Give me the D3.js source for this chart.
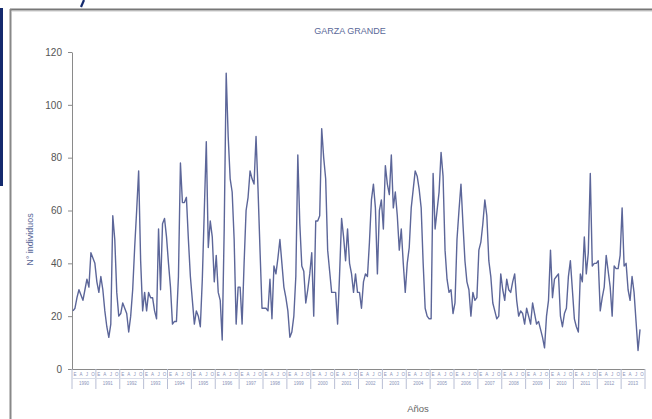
<!DOCTYPE html>
<html>
<head>
<meta charset="utf-8">
<script src="https://cdn.jsdelivr.net/npm/d3@7"></script>
<style>
  body { margin: 0; background: #fff; }
  svg { display: block; font-family: "Liberation Sans", Arial, sans-serif; }
</style>
</head>
<body>
<div id="chart"></div>
<script>
// monthly counts, one row per year
const counts = [
  22, 23, 27, 30, 28, 26, 30, 34, 31, 44, 42, 40,
  33, 29, 35, 30, 22, 16, 12, 17, 58, 49, 29, 20,
  21, 25, 23, 21, 14, 20, 30, 46, 60, 75, 41, 22,
  29, 22, 29, 27, 27, 22, 19, 53, 30, 55, 57, 50,
  40, 31, 17, 18, 18, 35, 78, 63, 63, 65, 49, 35,
  26, 17, 22, 20, 16, 34, 60, 86, 46, 56, 50, 33,
  43, 29, 26, 11, 53, 112, 88, 72, 67, 49, 17, 31,
  31, 17, 40, 60, 65, 75, 72, 70, 88, 68, 45, 23,
  23, 23, 22, 34, 19, 39, 36, 42, 49, 40, 31, 27,
  22, 12, 14, 20, 35, 81, 55, 39, 37, 25, 30, 36,
  44, 20, 56, 56, 58, 91, 80, 72, 45, 37, 29, 29,
  29, 17, 36, 57, 50, 41, 53, 40, 36, 29, 36, 29,
  29, 23, 33, 36, 35, 48, 64, 70, 61, 36, 60, 64,
  53, 77, 70, 66, 81, 61, 67, 58, 45, 53, 40, 29,
  40, 46, 61, 68, 75, 73, 68, 61, 40, 23, 20, 19,
  19, 74, 53, 60, 67, 82, 73, 45, 34, 29, 30, 21,
  25, 49, 60, 70, 55, 41, 33, 30, 20, 29, 26, 27,
  45, 48, 55, 64, 58, 41, 35, 25, 22, 19, 20, 36,
  30, 26, 34, 30, 29, 33, 36, 26, 20, 22, 21, 17,
  23, 20, 17, 25, 21, 17, 18, 15, 12, 8, 20, 26,
  45, 27, 34, 35, 36, 20, 16, 21, 23, 35, 41, 30,
  19, 16, 14, 36, 33, 50, 36, 44, 74, 39, 40, 40,
  41, 22, 27, 31, 43, 37, 31, 20, 39, 38, 38, 43,
  61, 39, 40, 30, 26, 35, 29, 18, 7, 15
];
const years = d3.range(1990, 2014).map(String);
const quarterLabels = ["E", "A", "J", "O"];
const yTicks = [0, 20, 40, 60, 80, 100, 120];

const W = 652, H = 419;
const plotLeft = 72, plotRight = 645, plotTop = 52, plotBottom = 369;

const svg = d3.select("#chart").append("svg")
    .attr("width", W).attr("height", H);

// page decorations around the chart frame
svg.append("rect").attr("x", 0).attr("y", 8).attr("width", 3).attr("height", 178).attr("fill", "#142a6e");
svg.append("line").attr("x1", 84).attr("y1", 0).attr("x2", 81).attr("y2", 7)
    .attr("stroke", "#142a6e").attr("stroke-width", 2.2);
svg.append("line").attr("x1", 10).attr("y1", 9.5).attr("x2", W).attr("y2", 9.5)
    .attr("stroke", "#777").attr("stroke-width", 2);
svg.append("line").attr("x1", 10.5).attr("y1", 9).attr("x2", 10.5).attr("y2", H)
    .attr("stroke", "#888").attr("stroke-width", 2);
svg.append("line").attr("x1", 12).attr("y1", 11.5).attr("x2", W).attr("y2", 11.5)
    .attr("stroke", "#e4e4e4").attr("stroke-width", 1);

let x = d3.scaleLinear().domain([0, years.length * 12]).range([plotLeft, plotRight]);
let y = d3.scaleLinear().domain([0, 120]).range([plotBottom, plotTop]);

// y axis
let yAxis = svg.append("g")
    .attr("transform", "translate(" + plotLeft + ",0)")
    .call(d3.axisLeft(y).tickValues(yTicks).tickSize(4).tickPadding(6).tickSizeOuter(0));
yAxis.select(".domain").attr("stroke", "#8a8a8a");
yAxis.selectAll(".tick line").attr("stroke", "#8a8a8a");
yAxis.selectAll("text").attr("fill", "#555").style("font-size", "10px");

// x axis line
svg.append("line")
    .attr("x1", plotLeft).attr("x2", plotRight).attr("y1", plotBottom + 0.5).attr("y2", plotBottom + 0.5)
    .attr("stroke", "#8a8a8a");

// category boxes under the axis: quarters on top, year below
let cat = svg.append("g");
years.forEach(function(yr, k) {
    let x0 = x(k * 12), x1 = x((k + 1) * 12);
    cat.append("line")
        .attr("x1", x0).attr("x2", x0).attr("y1", plotBottom).attr("y2", plotBottom + 20)
        .attr("stroke", "#b8bed4");
    quarterLabels.forEach(function(q, j) {
        cat.append("text")
            .attr("x", x(k * 12 + j * 3 + 1.5))
            .attr("y", plotBottom + 7)
            .attr("text-anchor", "middle")
            .attr("fill", "#8a93b8")
            .style("font-size", "4.5px")
            .text(q);
    });
    cat.append("text")
        .attr("x", (x0 + x1) / 2)
        .attr("y", plotBottom + 16)
        .attr("text-anchor", "middle")
        .attr("fill", "#8a93b8")
        .style("font-size", "4.5px")
        .text(yr);
});
cat.append("line")
    .attr("x1", plotRight).attr("x2", plotRight).attr("y1", plotBottom).attr("y2", plotBottom + 20)
    .attr("stroke", "#b8bed4");
cat.append("line")
    .attr("x1", plotLeft).attr("x2", plotRight).attr("y1", plotBottom + 9.5).attr("y2", plotBottom + 9.5)
    .attr("stroke", "#d8dce8");

// the series
let line = d3.line()
    .x(function(d, i) { return x(i + 0.5); })
    .y(function(d) { return y(d); });

svg.append("path")
    .datum(counts)
    .attr("fill", "none")
    .attr("stroke", "#5c6699")
    .attr("stroke-width", 1.4)
    .attr("stroke-linejoin", "round")
    .attr("d", line);

// TITLE
svg.append("text")
    .attr("x", 350).attr("y", 34)
    .attr("text-anchor", "middle")
    .attr("fill", "#5a6898")
    .style("font-size", "9px")
    .text("GARZA GRANDE");

// axis labels
svg.append("text")
    .attr("x", 418).attr("y", 412)
    .attr("text-anchor", "middle")
    .attr("fill", "#666")
    .style("font-size", "9.5px")
    .text("Años");

svg.append("text")
    .attr("transform", "translate(33," + ((plotTop + plotBottom) / 2 + 29) + ") rotate(-90)")
    .attr("text-anchor", "middle")
    .attr("fill", "#5a6898")
    .style("font-size", "9px")
    .text("N° individuos");
</script>
</body>
</html>
